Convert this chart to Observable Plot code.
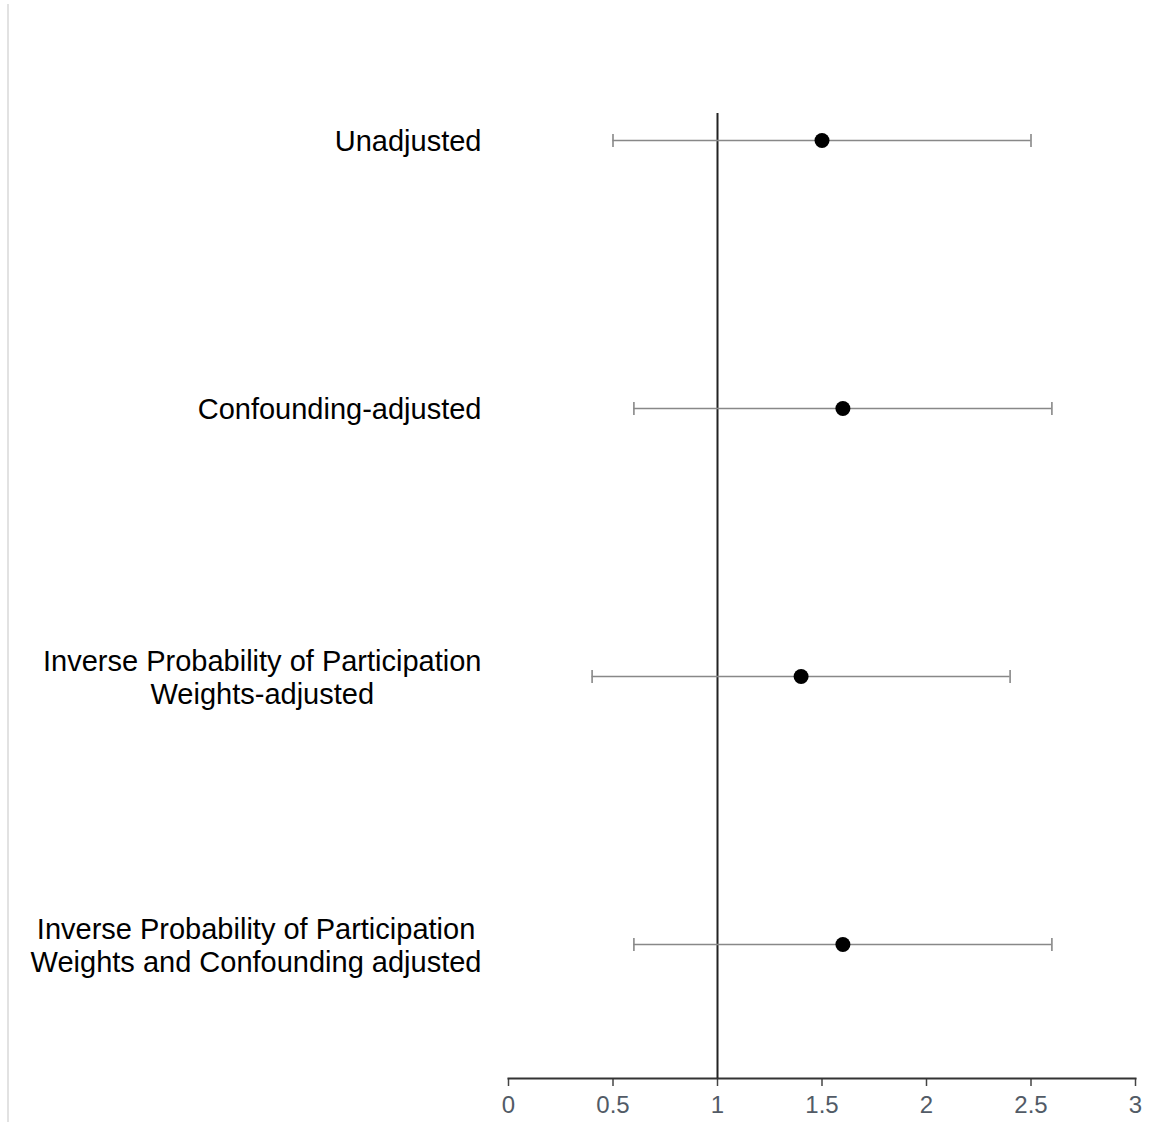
<!DOCTYPE html>
<html>
<head>
<meta charset="utf-8">
<script src="https://cdn.jsdelivr.net/npm/d3@7"></script>
<script src="https://cdn.jsdelivr.net/npm/@observablehq/plot@0.6"></script>
<style>
  html, body { margin: 0; padding: 0; background: #fff; }
  #wrap { position: relative; width: 1154px; height: 1122px; }
  #edge { position: absolute; left: 7px; top: 4px; bottom: 0; width: 2px; background: #e2e2e2; }
  svg { font-family: "Liberation Sans", Arial, sans-serif; }
</style>
</head>
<body>
<div id="wrap"><div id="edge"></div></div>
<script>
const labels = [
  "Unadjusted",
  "Confounding-adjusted",
  "Inverse Probability of Participation\nWeights-adjusted",
  "Inverse Probability of Participation\nWeights and Confounding adjusted"
];
const estimates = [1.5, 1.6, 1.4, 1.6];
const lower = [0.5, 0.6, 0.4, 0.6];
const upper = [2.5, 2.6, 2.4, 2.6];
const xTicks = [0, 0.5, 1, 1.5, 2, 2.5, 3];
const referenceValue = [1];

const data = labels.map((label, i) => ({label, est: estimates[i], lo: lower[i], hi: upper[i]}));

const capSymbol = {
  draw(context, size) {
    const h = Math.sqrt(size / Math.PI);
    context.moveTo(0, -h);
    context.lineTo(0, h);
  }
};

const chart = Plot.plot({
  width: 1154,
  height: 1122,
  marginLeft: 508,
  marginRight: 19,
  marginTop: 113,
  marginBottom: 44,
  style: {fontFamily: '"Liberation Sans", Arial, sans-serif', background: "transparent"},
  x: {domain: [0, 3], ticks: xTicks},
  y: {type: "point", domain: labels, padding: 0, insetTop: 27, insetBottom: 134},
  marks: [
    Plot.axisX({ticks: xTicks, tickFormat: d => String(d), tickSize: 8, tickPadding: 9, fontSize: 24, stroke: "#444", fill: "#525b66", strokeWidth: 1.5, label: null}),
    Plot.axisY({tickSize: 0, tickPadding: 27, fontSize: 29, fill: "#000", lineHeight: 1.14, label: null, textAnchor: "end"}),
    Plot.frame({anchor: "bottom", stroke: "#333", strokeWidth: 2}),
    Plot.ruleX(referenceValue, {stroke: "#222", strokeWidth: 2}),
    Plot.ruleY(data, {y: "label", x1: "lo", x2: "hi", stroke: "#888", strokeWidth: 1.6}),
    Plot.dot(data, {x: "lo", y: "label", symbol: capSymbol, r: 6.5, stroke: "#888", strokeWidth: 1.6}),
    Plot.dot(data, {x: "hi", y: "label", symbol: capSymbol, r: 6.5, stroke: "#888", strokeWidth: 1.6}),
    Plot.dot(data, {x: "est", y: "label", r: 7.5, fill: "#000", stroke: "none"})
  ]
});

document.getElementById("wrap").appendChild(chart);
chart.style.position = "absolute";
chart.style.left = "0";
chart.style.top = "0";

// Center multi-line labels within their right-aligned block
chart.querySelectorAll('g[aria-label="y-axis tick label"] text').forEach(t => {
  const spans = t.querySelectorAll("tspan");
  if (spans.length > 1) {
    const bb = t.getBBox();
    t.setAttribute("text-anchor", "middle");
    spans.forEach(s => s.setAttribute("x", bb.x + bb.width / 2));
  }
});
</script>
</body>
</html>
